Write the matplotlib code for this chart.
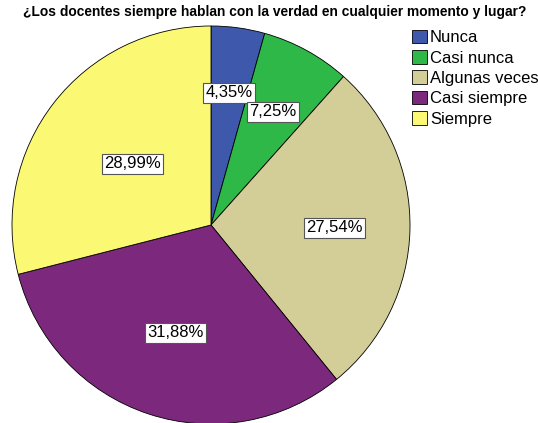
import numpy as np
import matplotlib
matplotlib.use("Agg")
import matplotlib.pyplot as plt

plt.rcParams['font.family'] = ['Liberation Sans', 'DejaVu Sans']

# data
categories = ["Nunca", "Casi nunca", "Algunas veces", "Casi siempre", "Siempre"]
percents = [4.35, 7.25, 27.54, 31.88, 28.99]
colors = ["#3E58AC", "#2EB848", "#D3CE97", "#7C287D", "#FBF873"]
# how far out each label sits (fraction of radius)
label_dist = [0.67, 0.65, 0.62, 0.57, 0.50]

title = "¿Los docentes siempre hablan con la verdad en cualquier momento y lugar?"

fig = plt.figure(figsize=(5.38, 4.23), dpi=100)
ax = fig.add_axes([0.0223, -0.0024, 0.7398, 0.941])

wedges, _ = ax.pie(percents, colors=colors, startangle=90, counterclock=False,
                   wedgeprops=dict(edgecolor="black", linewidth=0.6))
ax.set_aspect("equal")
ax.set_xlim(-1, 1)
ax.set_ylim(-1, 1)

# percentage labels in white boxes
for w, p, d in zip(wedges, percents, label_dist):
    ang = np.deg2rad((w.theta1 + w.theta2) / 2)
    x, y = d * np.cos(ang), d * np.sin(ang)
    ax.text(x, y, f"{p:.2f}%".replace(".", ","), ha="center", va="center", fontsize=12,
            bbox=dict(boxstyle="square,pad=0.15", facecolor="white", edgecolor="#555555", linewidth=0.8))

fig.text(0.511, 0.972, title, ha="center", va="center", fontsize=9.9, fontweight="bold")

leg = fig.legend(wedges, categories, loc="upper left", bbox_to_anchor=(0.765, 0.93),
                 frameon=False, fontsize=12, handlelength=0.9, handleheight=0.9,
                 handletextpad=0.2, labelspacing=0.28, borderpad=0, borderaxespad=0)

fig.savefig("out.png", dpi=100)
